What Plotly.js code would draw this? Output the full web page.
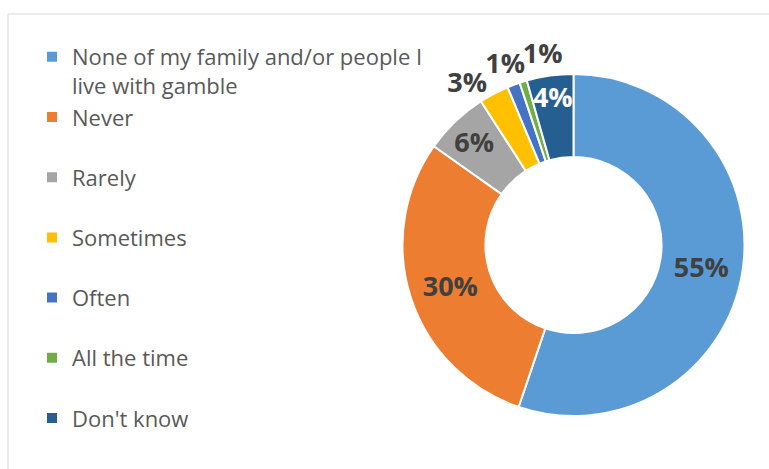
<!DOCTYPE html>
<html>
<head>
<meta charset="utf-8">
<script src="https://cdn.plot.ly/plotly-3.0.1.min.js"></script>
<style>html,body{margin:0;padding:0;background:#fff;}#chart{width:769px;height:469px;}</style>
</head>
<body>
<div id="chart"></div>
<script>
// Data
const categories = ["None of my family and/or people I<br>live with gamble", "Never", "Rarely", "Sometimes", "Often", "All the time", "Don't know"];
const shares = [55.2, 29.6, 6.1, 2.8, 1.2, 0.7, 4.4];
const sliceColors = ["#5B9BD5", "#ED7D31", "#A5A5A5", "#FFC000", "#4472C4", "#70AD47", "#255E91"];
const labelColors = ["#404040", "#404040", "#404040", "#404040", "#404040", "#404040", "#FFFFFF"];
// slices labelled inside the ring
const insideLabel = ["inside", "inside", "inside", "none", "none", "none", "inside"];
// slices labelled just outside the ring, with a small angular nudge (degrees) to keep labels apart
const outsideLabelled = [3, 4, 5];
const outsideNudge = [-5.3, 0, 8];

// legend spacing: pad single-line entries with an empty line
const legendLabels = categories.map((c, i) => i === 0 ? c : c + "<br> ");

const cx = 573.5, cy = 245, R = 171, W = 769, H = 469;
const labelFont = {family: "'Open Sans', sans-serif", size: 27, color: labelColors, weight: "bold"};
const ringDomain = (r) => ({x: [(cx - r) / W, Math.min(1, (cx + r) / W)], y: [(H - cy - r) / H, (H - cy + r) / H]});

const mainTrace = {
  type: "pie",
  labels: legendLabels,
  values: shares,
  sort: false,
  direction: "clockwise",
  rotation: 0,
  hole: 0.515,
  marker: {colors: sliceColors, line: {color: "#FFFFFF", width: 2}},
  texttemplate: "%{percent:.0%}",
  textposition: insideLabel,
  insidetextorientation: "horizontal",
  textfont: labelFont,
  domain: ringDomain(R),
  hoverinfo: "none"
};

// transparent thin ring that carries one small-slice label just outside the donut
function labelRing(sliceIndex, rot) {
  return {
    type: "pie",
    labels: legendLabels,
    values: shares,
    sort: false,
    direction: "clockwise",
    rotation: rot,
    hole: 0.995,
    showlegend: false,
    marker: {colors: sliceColors.map(() => "rgba(0,0,0,0)"), line: {width: 0}},
    texttemplate: "%{percent:.0%}",
    textposition: shares.map((_, i) => i === sliceIndex ? "inside" : "none"),
    insidetextorientation: "horizontal",
    textfont: labelFont,
    domain: ringDomain(195.5),
    hoverinfo: "none"
  };
}

const traces = [mainTrace].concat(outsideLabelled.map((idx, k) => labelRing(idx, outsideNudge[k])));

const layout = {
  width: W, height: H,
  margin: {l: 0, r: 0, t: 0, b: 0},
  paper_bgcolor: "#FFFFFF",
  showlegend: true,
  uniformtext: {mode: "show", minsize: 27},
  legend: {
    x: 32/769, xanchor: "left",
    y: 1 - 36/469, yanchor: "top",
    valign: "top",
    font: {family: "'Open Sans', sans-serif", size: 22, color: "#595959"},
    bgcolor: "rgba(0,0,0,0)",
    traceorder: "normal"
  },
  shapes: [{
    type: "rect", xref: "paper", yref: "paper",
    x0: 8/769, x1: 1.05, y0: -0.05, y1: 1 - 14/469,
    line: {color: "#D9D9D9", width: 1}, fillcolor: "rgba(0,0,0,0)", layer: "below"
  }]
};

Plotly.newPlot("chart", traces, layout, {displayModeBar: false, staticPlot: true});
</script>
</body>
</html>
